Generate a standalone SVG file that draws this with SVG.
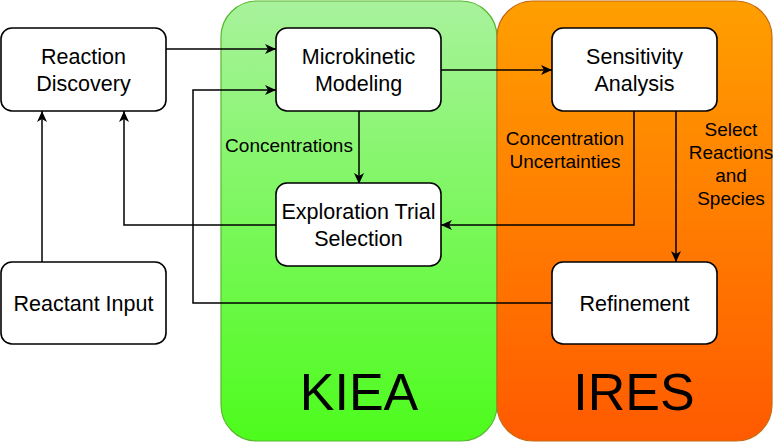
<svg xmlns="http://www.w3.org/2000/svg" width="773" height="442" viewBox="0 0 773 442">
<style>
.node rect{fill:#ffffff;stroke:#000000;stroke-width:1.6}
.lbl{font-family:"Liberation Sans",Arial,sans-serif;font-size:21.5px;fill:#000;text-anchor:middle}
.elbl{font-family:"Liberation Sans",Arial,sans-serif;font-size:19px;fill:#000;text-anchor:middle}
.big{font-family:"Liberation Sans",Arial,sans-serif;font-size:52px;fill:#000;text-anchor:middle}
.conn path{fill:none;stroke:#000;stroke-width:1.5}
</style>
<defs>
<linearGradient id="gG" x1="0" y1="0" x2="0" y2="1">
<stop offset="0" stop-color="#a8f29c"/>
<stop offset="1" stop-color="#4dfc1c"/>
</linearGradient>
<linearGradient id="gO" x1="0" y1="0" x2="0" y2="1">
<stop offset="0" stop-color="#ff9f00"/>
<stop offset="1" stop-color="#ff5a00"/>
</linearGradient>
<marker id="arr" markerUnits="userSpaceOnUse" markerWidth="12" markerHeight="10" viewBox="0 0 12 10" refX="11" refY="5" orient="auto">
<path d="M0,0 L11,5 L0,10 L3,5 z" fill="#000"/>
</marker>
</defs>
<g id="KIEA">
<rect x="221" y="1" width="276" height="440" rx="36" ry="36" fill="url(#gG)" stroke="#58b830" stroke-width="1.2"/>
<text class="big" x="359" y="410">KIEA</text>
</g>
<g id="IRES">
<rect x="497" y="1" width="275" height="440" rx="36" ry="36" fill="url(#gO)" stroke="#c86a10" stroke-width="1.2"/>
<text class="big" x="634" y="410">IRES</text>
</g>
<g class="conn" id="connectors">
<path d="M166,49 H276" marker-end="url(#arr)"/>
<path d="M552,303 H193 V90 H276" marker-end="url(#arr)"/>
<path d="M441,70 H552" marker-end="url(#arr)"/>
<path d="M359,111 V184" marker-end="url(#arr)"/>
<path d="M634,111 V225 H441" marker-end="url(#arr)"/>
<path d="M676,111 V262" marker-end="url(#arr)"/>
<path d="M276,225 H124 V111" marker-end="url(#arr)"/>
<path d="M42,262 V111" marker-end="url(#arr)"/>
</g>
<g id="edge-labels">
<text class="elbl" x="289" y="152">Concentrations</text>
<text class="elbl" x="565" y="145">Concentration</text>
<text class="elbl" x="565" y="168">Uncertainties</text>
<text class="elbl" x="731" y="136">Select</text>
<text class="elbl" x="731" y="159">Reactions</text>
<text class="elbl" x="731" y="182">and</text>
<text class="elbl" x="731" y="205">Species</text>
</g>
<g id="reaction-discovery" class="node">
<rect x="1" y="28" width="165" height="83" rx="11"/>
<text class="lbl" x="83.5" y="64">Reaction</text>
<text class="lbl" x="83.5" y="91">Discovery</text>
</g>
<g id="reactant-input" class="node">
<rect x="1" y="262" width="165" height="82" rx="11"/>
<text class="lbl" x="83.5" y="311">Reactant Input</text>
</g>
<g id="microkinetic-modeling" class="node">
<rect x="276" y="28" width="165" height="83" rx="11"/>
<text class="lbl" x="358.5" y="64">Microkinetic</text>
<text class="lbl" x="358.5" y="91">Modeling</text>
</g>
<g id="exploration-trial-selection" class="node">
<rect x="276" y="183" width="165" height="83" rx="11"/>
<text class="lbl" x="358.5" y="219">Exploration Trial</text>
<text class="lbl" x="358.5" y="246">Selection</text>
</g>
<g id="sensitivity-analysis" class="node">
<rect x="552" y="28" width="165" height="83" rx="11"/>
<text class="lbl" x="634.5" y="64">Sensitivity</text>
<text class="lbl" x="634.5" y="91">Analysis</text>
</g>
<g id="refinement" class="node">
<rect x="552" y="262" width="165" height="82" rx="11"/>
<text class="lbl" x="634.5" y="311">Refinement</text>
</g>
</svg>
